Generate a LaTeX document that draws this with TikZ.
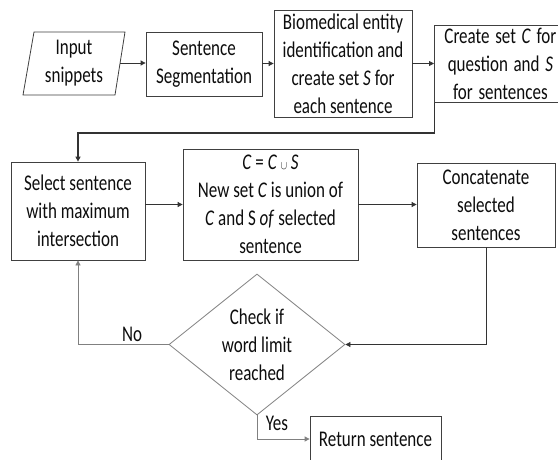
\documentclass[tikz,border=0pt]{standalone}
\usepackage{fontspec}
\setmainfont{Carlito}
\usetikzlibrary{shapes.geometric,arrows.meta}
\newcommand{\tallt}[1]{\scalebox{1}[1.32]{#1}}
\tikzset{
  boxstyle/.style={draw=black!75, line width=0.8pt, align=center, inner sep=0pt,
    font=\fontsize{17}{28}\selectfont, text=black!95},
  conn/.style={draw=black!80, line width=0.8pt},
  gconn/.style={draw=black!50, line width=0.8pt},
  arr/.style={-{Triangle[length=5pt,width=5pt]}},
  lbl/.style={font=\fontsize{17}{28}\selectfont, inner sep=0pt, text=black!95},
}
\begin{document}
\begin{tikzpicture}[x=1pt,y=-1pt]
\clip (0,0) rectangle (558,459);
\fill[white] (0,0) rectangle (558,459);
% input parallelogram
\draw[draw=black!75, line width=0.8pt] (23,95) -- (34,32) -- (125,32) -- (115,95) -- cycle;
\node[lbl, align=center] (inp) at (74,63) {\tallt{Input}\\\tallt{snippets}};
\coordinate (inpE) at (120,63);
\node[boxstyle, minimum width=116pt, minimum height=64pt] (seg) at (204,64) {\tallt{Sentence}\\\tallt{Segmentation}};
\node[boxstyle, minimum width=138pt, minimum height=107pt] (bio) at (343,63.5) {\tallt{Biomedical entity}\\\tallt{identification and}\\\tallt{create set \textit{S} for}\\\tallt{each sentence}};
\node[boxstyle, minimum width=132pt, minimum height=77pt, anchor=north west, text width=123pt] (cset) at (434,25) {\tallt{Create set \textit{C} for}\\\tallt{question and \textit{S}}\\\tallt{for sentences}};
\node[boxstyle, minimum width=134pt, minimum height=98pt] (sel) at (78,211) {\tallt{Select sentence}\\\tallt{with maximum}\\\tallt{intersection}};
\node[boxstyle, minimum width=175pt, minimum height=111pt] (mid) at (270.5,204.5) {\tallt{\textit{C} = \textit{C} {\fontsize{9}{9}\selectfont$\cup$} \textit{S}}\\\tallt{New set \textit{C} is union of}\\\tallt{\textit{C} and S \textit{of} selected}\\\tallt{sentence}};
\node[boxstyle, minimum width=138pt, minimum height=84pt] (cat) at (486,205) {\tallt{Concatenate}\\\tallt{selected}\\\tallt{sentences}};
\node[boxstyle, draw=black!50, diamond, minimum width=176pt, minimum height=141pt, aspect=1.25] (chk) at (257,344.5) {\tallt{Check if}\\\tallt{word limit}\\\tallt{reached}};
\node[boxstyle, minimum width=131pt, minimum height=46pt] (ret) at (375.5,439) {\tallt{Return sentence}};
\coordinate (bend) at (0,133);
% connectors
\draw[conn, arr] (inpE) -- (inpE -| seg.west);
\draw[conn, arr] (seg.east |- bio.west) -- (bio.west);
\draw[conn, arr] (bio.east) -- (bio.east -| cset.west);
\draw[conn, line width=1.2pt, arr] ([xshift=-66pt]cset.south) -- ([xshift=-66pt]cset.south |- bend) -| (sel.north);
\draw[conn, arr] (sel.east |- mid.west) -- (mid.west);
\draw[conn, arr] (mid.east) -- (mid.east -| cat.west);
\draw[conn, arr] (cat.south) |- (chk.east);
\draw[gconn, arr] (chk.west) -| (sel.south);
\draw[gconn, arr] (chk.south) |- (ret.west);
\node[lbl] (no) at (132,334) {\tallt{No}};
\node[lbl] (yes) at (277,423) {\tallt{Yes}};
\end{tikzpicture}
\end{document}
